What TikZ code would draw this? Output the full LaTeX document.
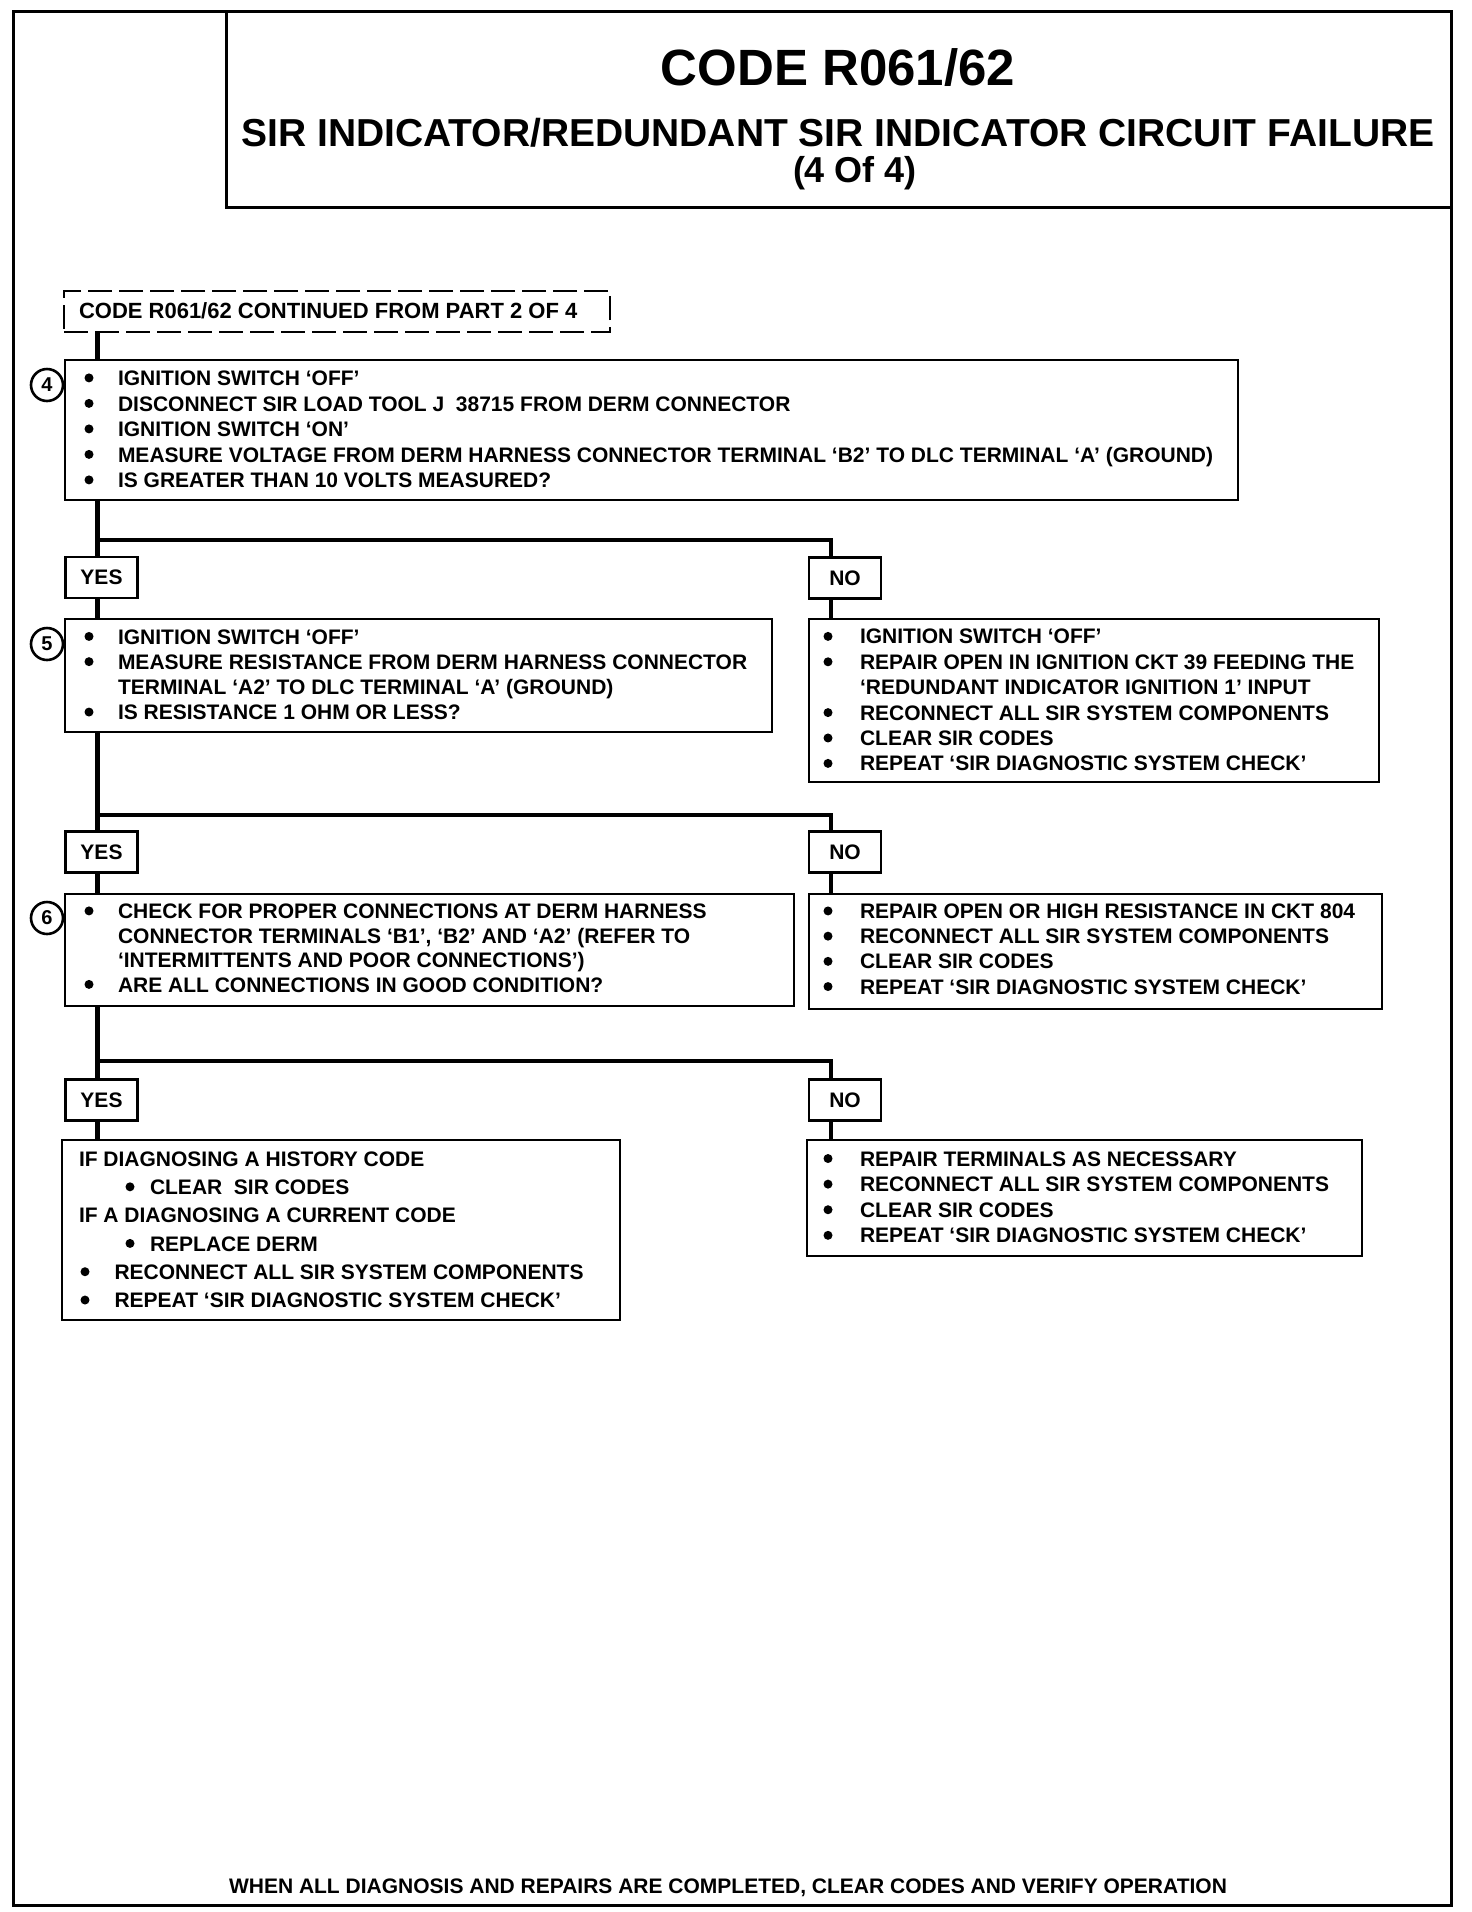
\documentclass[tikz,border=0pt]{standalone}
\usepackage{fontspec}
\setmainfont{Liberation Sans}
\newcommand\bul{\tikz[baseline=-7.6pt]\fill (0,0) circle (4.5pt);}
\newcommand\Bi[2]{\makebox[0pt]{\bul}\hspace*{#1}#2}
\newcommand\blk[2]{\fontsize{21}{#1}\selectfont\begin{tabular}{@{}l@{}}#2\end{tabular}}
\begin{document}
\begin{tikzpicture}[x=1pt,y=-1pt,
  rbox/.style={draw, line width=2.6pt, inner sep=0pt, outer sep=0pt, anchor=north west},
  txt/.style={inner sep=0pt, outer sep=0pt, anchor=north west, font=\bfseries},
  lab/.style={draw, line width=2.6pt, inner sep=0pt, outer sep=0pt, minimum width=72pt, minimum height=41pt, font=\bfseries\fontsize{21}{25}\selectfont},
  conn/.style={line width=4.4pt},
  num/.style={draw, circle, line width=2.6pt, minimum size=32pt, inner sep=0pt, font=\bfseries\fontsize{20}{20}\selectfont}
]
\useasboundingbox (0,0) rectangle (1472,1912);
\fill[white] (0,0) rectangle (1472,1912);

% frame and title
\node[rbox, line width=3pt, minimum width=1438pt, minimum height=1894pt] (frame) at (13,11) {};
\node[rbox, line width=3pt, minimum width=1225pt, minimum height=196pt] (title) at (226,11) {};
\node[inner sep=0pt, anchor=base, font=\bfseries\fontsize{51}{51}\selectfont] (t1) at (838,85.3) {CODE R061/62};
\node[inner sep=0pt, anchor=base, font=\bfseries\fontsize{39}{39}\selectfont] (t2) at (838,146) {SIR INDICATOR/REDUNDANT SIR INDICATOR CIRCUIT FAILURE};
\node[inner sep=0pt, anchor=base, font=\bfseries\fontsize{36}{36}\selectfont] (t3) at (855,182) {(4 Of 4)};

% continued box
\node[rbox, dashed, dash pattern=on 24pt off 7pt, minimum width=546pt, minimum height=41pt] (cont) at (64,291) {};
\node[txt, anchor=base west, font=\bfseries\fontsize{22}{26}\selectfont] (contT) at (79,318.5) {CODE R061/62 CONTINUED FROM PART 2 OF 4};

\coordinate (tx) at (97.5,0);
\coordinate (nx) at (831,0);
\coordinate (br1) at (0,540);
\coordinate (br2) at (0,815);
\coordinate (br3) at (0,1061);

% step 4
\node[rbox, minimum width=1173pt, minimum height=140pt] (b4) at (65,360) {};
\node[num] (c4) at (47,385) {4};
\node[txt] (t4) at (89,367.65) {\blk{25.5}{%
\Bi{29pt}{IGNITION SWITCH `OFF'}\\
\Bi{29pt}{DISCONNECT SIR LOAD TOOL J\ \ 38715 FROM DERM CONNECTOR}\\
\Bi{29pt}{IGNITION SWITCH `ON'}\\
\Bi{29pt}{MEASURE VOLTAGE FROM DERM HARNESS CONNECTOR TERMINAL `B2' TO DLC TERMINAL `A' (GROUND)}\\
\Bi{29pt}{IS GREATER THAN 10 VOLTS MEASURED?}}};

\node[lab] (y1) at (101.5,577.5) {YES};
\node[lab] (n1) at (845,578) {NO};

% step 5
\node[rbox, minimum width=707pt, minimum height=113pt] (b5) at (65,619) {};
\node[num] (c5) at (47,644) {5};
\node[txt] (t5) at (89,626.4) {\blk{25.2}{%
\Bi{29pt}{IGNITION SWITCH `OFF'}\\
\Bi{29pt}{MEASURE RESISTANCE FROM DERM HARNESS CONNECTOR}\\
\hspace*{29pt}TERMINAL `A2' TO DLC TERMINAL `A' (GROUND)\\
\Bi{29pt}{IS RESISTANCE 1 OHM OR LESS?}}};

\node[rbox, minimum width=570pt, minimum height=163pt] (n5) at (809,619) {};
\node[txt] (tn5) at (828,626.2) {\blk{25.4}{%
\Bi{32pt}{IGNITION SWITCH `OFF'}\\
\Bi{32pt}{REPAIR OPEN IN IGNITION CKT 39 FEEDING THE}\\
\hspace*{32pt}`REDUNDANT INDICATOR IGNITION 1' INPUT\\
\Bi{32pt}{RECONNECT ALL SIR SYSTEM COMPONENTS}\\
\Bi{32pt}{CLEAR SIR CODES}\\
\Bi{32pt}{REPEAT `SIR DIAGNOSTIC SYSTEM CHECK'}}};

\node[lab] (y2) at (101.5,852) {YES};
\node[lab] (n2) at (845,852) {NO};

% step 6
\node[rbox, minimum width=729pt, minimum height=112pt] (b6) at (65,894) {};
\node[num] (c6) at (47,918) {6};
\node[txt] (t6) at (89,901.35) {\blk{24.5}{%
\Bi{29pt}{CHECK FOR PROPER CONNECTIONS AT DERM HARNESS}\\
\hspace*{29pt}CONNECTOR TERMINALS `B1', `B2' AND `A2' (REFER TO\\
\hspace*{29pt}`INTERMITTENTS AND POOR CONNECTIONS')\\
\Bi{29pt}{ARE ALL CONNECTIONS IN GOOD CONDITION?}}};

\node[rbox, minimum width=573pt, minimum height=115pt] (n6) at (809,894) {};
\node[txt] (tn6) at (828,900.9) {\blk{25.2}{%
\Bi{32pt}{REPAIR OPEN OR HIGH RESISTANCE IN CKT 804}\\
\Bi{32pt}{RECONNECT ALL SIR SYSTEM COMPONENTS}\\
\Bi{32pt}{CLEAR SIR CODES}\\
\Bi{32pt}{REPEAT `SIR DIAGNOSTIC SYSTEM CHECK'}}};

\node[lab] (y3) at (101.5,1100) {YES};
\node[lab] (n3) at (845,1100) {NO};

% final boxes
\node[rbox, minimum width=558pt, minimum height=180pt] (fy) at (62,1140) {};
\node[txt] (tfy) at (79,1146.3) {\blk{28.3}{%
IF DIAGNOSING A HISTORY CODE\\
\hspace*{51pt}\Bi{20pt}{CLEAR\ \ SIR CODES}\\
IF A DIAGNOSING A CURRENT CODE\\
\hspace*{51pt}\Bi{20pt}{REPLACE DERM}\\
\hspace*{6pt}\Bi{29.5pt}{RECONNECT ALL SIR SYSTEM COMPONENTS}\\
\hspace*{6pt}\Bi{29.5pt}{REPEAT `SIR DIAGNOSTIC SYSTEM CHECK'}}};

\node[rbox, minimum width=555pt, minimum height=116pt] (fn) at (807,1140) {};
\node[txt] (tfn) at (828,1148.2) {\blk{25.6}{%
\Bi{32pt}{REPAIR TERMINALS AS NECESSARY}\\
\Bi{32pt}{RECONNECT ALL SIR SYSTEM COMPONENTS}\\
\Bi{32pt}{CLEAR SIR CODES}\\
\Bi{32pt}{REPEAT `SIR DIAGNOSTIC SYSTEM CHECK'}}};

% footer
\node[inner sep=0pt, anchor=base, font=\bfseries\fontsize{21}{25}\selectfont] (foot) at (728,1893) {WHEN ALL DIAGNOSIS AND REPAIRS ARE COMPLETED, CLEAR CODES AND VERIFY OPERATION};

% connectors
\draw[conn] (cont.south -| tx) -- (b4.north -| tx);
\draw[conn] (b4.south -| tx) -- (y1.north -| tx);
\draw[conn] (tx |- br1) -| (n1.north -| nx);
\draw[conn] (y1.south -| tx) -- (b5.north -| tx);
\draw[conn] (n1.south -| nx) -- (n5.north -| nx);
\draw[conn] (b5.south -| tx) -- (y2.north -| tx);
\draw[conn] (tx |- br2) -| (n2.north -| nx);
\draw[conn] (y2.south -| tx) -- (b6.north -| tx);
\draw[conn] (n2.south -| nx) -- (n6.north -| nx);
\draw[conn] (b6.south -| tx) -- (y3.north -| tx);
\draw[conn] (tx |- br3) -| (n3.north -| nx);
\draw[conn] (y3.south -| tx) -- (fy.north -| tx);
\draw[conn] (n3.south -| nx) -- (fn.north -| nx);
\end{tikzpicture}
\end{document}
